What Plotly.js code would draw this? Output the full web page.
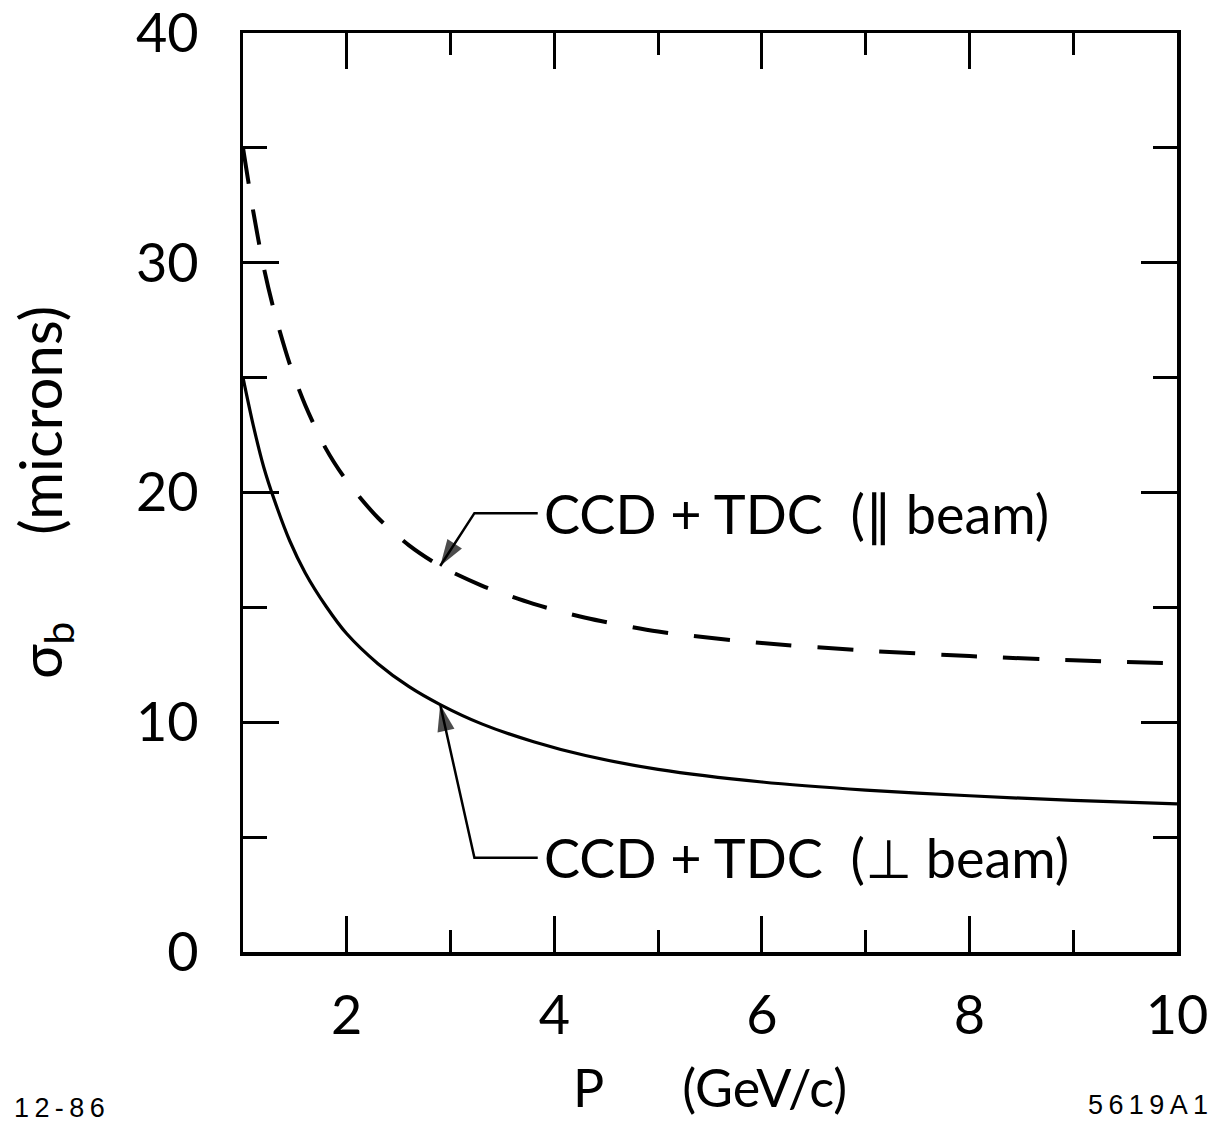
<!DOCTYPE html>
<html>
<head>
<meta charset="utf-8">
<script src="https://cdn.plot.ly/plotly-3.0.1.min.js"></script>
<style>
  html, body { margin: 0; padding: 0; background: #fff; }
  #chart { width: 1216px; height: 1124px; }
</style>
</head>
<body>
<div id="chart"></div>
<script>
// Momentum P (GeV/c)
const momentum = [1, 1.1, 1.2, 1.3, 1.45, 1.6, 1.8, 2.0, 2.3, 2.6, 2.9, 3.3, 3.8, 4.3, 5.0, 6.0, 7.0, 8.0, 9.0, 10.0];
// sigma_b (microns), CCD + TDC, perpendicular to beam (solid)
const sigmaPerp = [25.0, 22.9, 21.1, 19.7, 17.9, 16.5, 15.05, 13.85, 12.55, 11.55, 10.77, 9.93, 9.15, 8.55, 7.95, 7.4, 7.05, 6.8, 6.6, 6.45];
// sigma_b (microns), CCD + TDC, parallel to beam (dashed)
const sigmaPar = [35.0, 32.2, 29.8, 27.9, 25.6, 23.8, 21.9, 20.5, 18.9, 17.7, 16.8, 15.95, 15.15, 14.55, 13.95, 13.45, 13.12, 12.88, 12.7, 12.56];

const xTickVals = [2, 4, 6, 8, 10];
const xTickText = ['2', '4', '6', '8', '10'];
const xMinorVals = [3, 5, 7, 9];
const yTickVals = [0, 10, 20, 30, 40];
const yTickText = ['0', '10', '20', '30', '40'];
const yMinorVals = [5, 15, 25, 35];

const labelPar = 'CCD + TDC  (\u2225 beam)';
const labelPerp = 'CCD + TDC  (\u22A5 beam)';

const FONT = 'Lato, "Noto Sans", "DejaVu Sans", sans-serif';

// label / leader positions (annotation placement, in axis units)
const iArrow = 10;            // arrows point at P = momentum[10]
const bendPar = {x: 3.23, y: 19.1};
const bendPerp = {x: 3.23, y: 4.1};
const textX = 3.88;

function leader(bend, headX, headY) {
  return {
    x: [textX - 0.04, bend.x, headX], y: [bend.y, bend.y, headY],
    type: 'scatter', mode: 'lines+markers', hoverinfo: 'skip', showlegend: false,
    line: {color: '#000', width: 2.5},
    marker: {symbol: 'arrow', size: [0, 0, 28], angleref: 'previous', color: '#000', line: {width: 0}}
  };
}

const traces = [
  {
    x: momentum, y: sigmaPar, type: 'scatter', mode: 'lines',
    line: {color: '#000', width: 4, dash: '36px,26px', shape: 'spline', smoothing: 0.8},
    name: labelPar, hoverinfo: 'x+y'
  },
  {
    x: momentum, y: sigmaPerp, type: 'scatter', mode: 'lines',
    line: {color: '#000', width: 3.2, shape: 'spline', smoothing: 0.8},
    name: labelPerp, hoverinfo: 'x+y'
  },
  leader(bendPar, momentum[iArrow], sigmaPar[iArrow]),
  leader(bendPerp, momentum[iArrow], sigmaPerp[iArrow])
];

const layout = {
  width: 1216, height: 1124,
  margin: {l: 243, r: 39, t: 33, b: 172},
  paper_bgcolor: '#fff', plot_bgcolor: '#fff',
  showlegend: false,
  font: {family: FONT, color: '#000'},
  xaxis: {
    range: [1, 10], showgrid: false, zeroline: false,
    showline: true, linecolor: '#000', linewidth: 3.5, mirror: 'ticks',
    ticks: 'inside', ticklen: 36, tickwidth: 3, tickcolor: '#000',
    tickvals: xTickVals, ticktext: xTickText,
    ticklabelstandoff: 14, ticklabeloverflow: 'allow',
    tickfont: {family: FONT, size: 54, color: '#000'},
    minor: {tickvals: xMinorVals, ticks: 'inside', ticklen: 22, tickwidth: 3, tickcolor: '#000', showgrid: false},
    title: {text: 'P\u2003\u2003(GeV/c)', font: {family: FONT, size: 52, color: '#000'}, standoff: 26}
  },
  yaxis: {
    range: [0, 40], showgrid: false, zeroline: false,
    showline: true, linecolor: '#000', linewidth: 3.5, mirror: 'ticks',
    ticks: 'inside', ticklen: 36, tickwidth: 3, tickcolor: '#000',
    tickvals: yTickVals, ticktext: yTickText,
    ticklabelstandoff: 30, ticklabeloverflow: 'allow',
    tickfont: {family: FONT, size: 54, color: '#000'},
    minor: {tickvals: yMinorVals, ticks: 'inside', ticklen: 24, tickwidth: 3, tickcolor: '#000', showgrid: false},
    title: {text: '\u03C3<sub>b</sub>\u2003\u2003(microns)', font: {family: FONT, size: 58, color: '#000'}, standoff: 56}
  },
  annotations: [
    {x: textX, y: bendPar.y, xref: 'x', yref: 'y', xanchor: 'left', yanchor: 'middle', showarrow: false,
     text: labelPar, font: {family: FONT, size: 54, color: '#000'}},
    {x: textX, y: bendPerp.y, xref: 'x', yref: 'y', xanchor: 'left', yanchor: 'middle', showarrow: false,
     text: labelPerp, font: {family: FONT, size: 54, color: '#000'}},
    {x: -0.247, y: -0.170, xref: 'paper', yref: 'paper', xanchor: 'left', yanchor: 'middle', showarrow: false,
     text: '1\u20092\u2009-\u20098\u20096', font: {family: '"Liberation Sans", Arial, sans-serif', size: 27, color: '#000'}},
    {x: 1.035, y: -0.167, xref: 'paper', yref: 'paper', xanchor: 'right', yanchor: 'middle', showarrow: false,
     text: '5\u20096\u20091\u20099\u2009A\u20091', font: {family: '"Liberation Sans", Arial, sans-serif', size: 27, color: '#000'}}
  ]
};

Plotly.newPlot('chart', traces, layout, {displayModeBar: false, staticPlot: true});
</script>
</body>
</html>
